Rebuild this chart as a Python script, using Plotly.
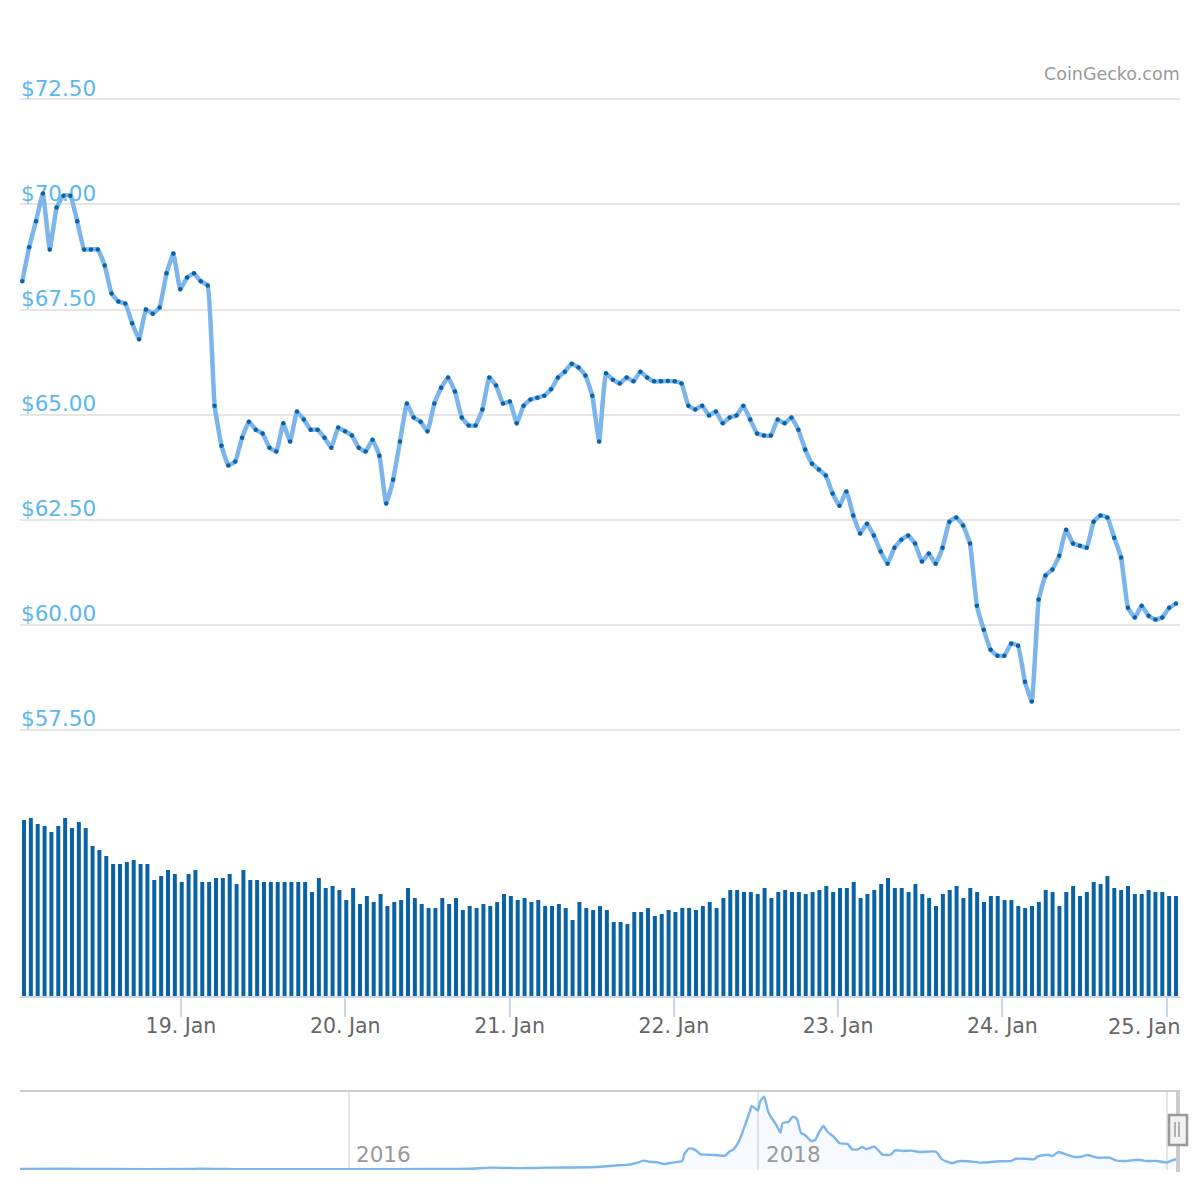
import plotly.graph_objects as go
import pandas as pd

# hourly price
prices = [
    68.17, 68.98, 69.60, 70.26, 68.93, 69.93, 70.21, 70.21, 69.60, 68.93, 68.93, 68.93, 68.55, 67.88,
    67.69, 67.64, 67.17, 66.79, 67.50, 67.40, 67.55, 68.36, 68.83, 67.98, 68.26, 68.36, 68.17, 68.07,
    65.21, 64.26, 63.79, 63.88, 64.45, 64.83, 64.64, 64.55, 64.21, 64.12, 64.79, 64.36, 65.07, 64.88,
    64.64, 64.64, 64.45, 64.21, 64.69, 64.60, 64.50, 64.21, 64.12, 64.40, 64.02, 62.88, 63.45, 64.36,
    65.26, 64.93, 64.83, 64.60, 65.26, 65.64, 65.88, 65.55, 64.93, 64.74, 64.74, 65.12, 65.88, 65.69,
    65.26, 65.31, 64.79, 65.21, 65.36, 65.40, 65.45, 65.60, 65.88, 66.02, 66.21, 66.12, 65.93, 65.45,
    64.36, 65.98, 65.83, 65.74, 65.88, 65.79, 66.02, 65.88, 65.79, 65.79, 65.80, 65.79, 65.74, 65.21,
    65.12, 65.21, 64.98, 65.07, 64.79, 64.93, 64.98, 65.21, 64.88, 64.55, 64.50, 64.50, 64.88, 64.79,
    64.93, 64.64, 64.17, 63.83, 63.69, 63.55, 63.12, 62.83, 63.17, 62.60, 62.17, 62.40, 62.12, 61.74,
    61.45, 61.83, 62.02, 62.12, 61.93, 61.50, 61.69, 61.45, 61.83, 62.45, 62.55, 62.36, 61.93, 60.45,
    59.88, 59.40, 59.26, 59.26, 59.55, 59.50, 58.64, 58.17, 60.60, 61.17, 61.31, 61.64, 62.26, 61.93,
    61.88, 61.83, 62.45, 62.60, 62.55, 62.07, 61.60, 60.40, 60.17, 60.45, 60.21, 60.12, 60.17, 60.40,
    60.50,
]

# volume has no axis in the picture, so these are relative units
volumes = [
    177, 179, 173, 171, 165, 171, 179, 169, 175, 169, 151, 147, 141, 133, 133, 135, 137, 133, 133, 117,
    121, 127, 123, 115, 123, 127, 115, 115, 119, 119, 123, 113, 127, 117, 117, 115, 115, 115, 115, 115,
    115, 115, 105, 119, 109, 111, 107, 97, 109, 93, 101, 95, 103, 91, 95, 97, 109, 99, 93, 89,
    89, 99, 93, 99, 87, 91, 89, 93, 91, 95, 103, 101, 97, 99, 95, 97, 91, 91, 93, 89,
    77, 95, 89, 87, 91, 87, 75, 75, 73, 85, 85, 89, 81, 83, 87, 85, 89, 89, 87, 91,
    95, 89, 99, 107, 107, 105, 105, 103, 109, 99, 105, 107, 105, 105, 103, 105, 107, 111, 105, 109,
    109, 115, 99, 103, 107, 113, 119, 109, 109, 105, 113, 103, 99, 91, 103, 107, 111, 99, 109, 105,
    95, 101, 101, 97, 97, 91, 89, 91, 95, 107, 105, 91, 105, 111, 101, 105, 115, 113, 121, 109,
    107, 111, 103, 103, 107, 105, 105, 101, 101,
]

price_ticks = [57.5, 60, 62.5, 65, 67.5, 70, 72.5]
price_labels = ["$57.50", "$60.00", "$62.50", "$65.00", "$67.50", "$70.00", "$72.50"]
day_ticks = ["2020-01-19", "2020-01-20", "2020-01-21", "2020-01-22", "2020-01-23", "2020-01-24", "2020-01-25"]
day_labels = ["19. Jan", "20. Jan", "21. Jan", "22. Jan", "23. Jan", "24. Jan", ""]

# navigator: whole history as decimal year / price
nav_years = [
    2014.39, 2014.59, 2014.81, 2015.22, 2015.27, 2015.47, 2015.76, 2016.00, 2016.40, 2016.59, 2016.69,
    2016.84, 2016.98, 2017.18, 2017.23, 2017.32, 2017.38, 2017.41, 2017.44, 2017.47, 2017.51, 2017.54,
    2017.58, 2017.63, 2017.64, 2017.66, 2017.68, 2017.70, 2017.72, 2017.76, 2017.79, 2017.84, 2017.86,
    2017.88, 2017.91, 2017.94, 2017.96, 2017.97, 2018.00, 2018.01, 2018.03, 2018.05, 2018.06, 2018.09,
    2018.11, 2018.12, 2018.15, 2018.17, 2018.19, 2018.21, 2018.23, 2018.26, 2018.28, 2018.30, 2018.32,
    2018.34, 2018.37, 2018.40, 2018.44, 2018.46, 2018.49, 2018.51, 2018.53, 2018.57, 2018.61, 2018.65,
    2018.67, 2018.71, 2018.75, 2018.79, 2018.87, 2018.90, 2018.95, 2018.98, 2019.03, 2019.09, 2019.18,
    2019.24, 2019.26, 2019.31, 2019.35, 2019.37, 2019.42, 2019.44, 2019.47, 2019.51, 2019.55, 2019.58,
    2019.61, 2019.66, 2019.72, 2019.75, 2019.80, 2019.86, 2019.90, 2019.95, 2020.00, 2020.03, 2020.05,
]
nav_prices = [
    6, 8, 6, 6, 9, 5, 5, 5, 6, 8, 15,
    12, 15, 18, 21, 30, 36, 47, 60, 53, 49, 38,
    47, 58, 102, 136, 136, 122, 100, 98, 96, 92, 117,
    132, 192, 299, 373, 410, 380, 437, 469, 373, 346, 288,
    239, 299, 309, 341, 328, 239, 224, 186, 192, 245, 282,
    245, 213, 171, 166, 132, 132, 147, 134, 149, 98, 98,
    126, 122, 124, 115, 117, 68, 43, 56, 56, 47, 56,
    58, 72, 72, 68, 88, 98, 90, 115, 98, 83, 85,
    96, 79, 79, 62, 58, 66, 58, 58, 49, 64, 70,
]
nav_ticks = [2016, 2018, 2020]

times = pd.date_range("2020-01-18 00:49", "2020-01-25 01:22", periods=len(prices))
# columns snap to whole pixels in the original, slightly right of the first dots
bar_times = pd.date_range("2020-01-18 01:04", "2020-01-25 01:22", periods=len(volumes))

# page body has an 8px margin, so the 1200px picture starts 8px before the figure
FIG_SIZE = 1184
OFFSET = 8


def px_x(x):
    return (x - OFFSET) / FIG_SIZE


def px_y(y):
    return 1 - (y - OFFSET) / FIG_SIZE


def box(x0, y0, x1, y1, **kw):
    return dict(type="rect", xref="paper", yref="paper", x0=px_x(x0), x1=px_x(x1),
                y0=px_y(y1), y1=px_y(y0), **kw)


def seg(x0, y0, x1, y1, color, width):
    return dict(type="line", xref="paper", yref="paper", x0=px_x(x0), x1=px_x(x1),
                y0=px_y(y0), y1=px_y(y1), line=dict(color=color, width=width))


FONT = "DejaVu Sans"
BLUE = "#7cb5ec"
DARK = "#0a62a6"

fig = go.Figure()
fig.add_bar(x=bar_times, y=volumes, xaxis="x", yaxis="y2", marker=dict(color=DARK, line=dict(width=0)))
fig.add_scatter(x=times, y=prices, xaxis="x", yaxis="y", mode="lines+markers",
                line=dict(color=BLUE, width=4.5, shape="spline", smoothing=0.3),
                marker=dict(color=DARK, size=4.5, line=dict(width=0)))
fig.add_scatter(x=nav_years, y=nav_prices, xaxis="x3", yaxis="y3", mode="lines",
                line=dict(color=BLUE, width=2.4, shape="spline", smoothing=0.5),
                fill="tozeroy", fillcolor="rgba(124,181,236,0.07)")

fig.update_layout(
    width=FIG_SIZE,
    height=FIG_SIZE,
    margin=dict(l=0, r=0, t=0, b=0),
    paper_bgcolor="white",
    plot_bgcolor="rgba(0,0,0,0)",
    showlegend=False,
    bargap=0.42,
    xaxis=dict(
        domain=[px_x(20), px_x(1180)],
        anchor="y2",
        range=["2020-01-18 00:29", "2020-01-25 01:57"],
        tickmode="array",
        tickvals=day_ticks,
        ticktext=day_labels,
        ticks="outside",
        ticklen=19,
        tickwidth=2,
        tickcolor="#ccd6eb",
        ticklabelstandoff=-9,
        showline=True,
        linecolor="#ccd6eb",
        linewidth=2,
        showgrid=False,
        zeroline=False,
        tickfont=dict(family=FONT, size=20.5, color="#666666"),
    ),
    yaxis=dict(
        domain=[px_y(759.5), px_y(59.5)],
        anchor="x",
        range=[56.79, 73.45],
        tickmode="array",
        tickvals=price_ticks,
        ticktext=price_labels,
        ticklabelposition="inside",
        ticklabelshift=-11,
        ticklabelstandoff=-2,
        ticks="",
        layer="below traces",
        showgrid=True,
        gridcolor="#e6e6e6",
        gridwidth=2,
        zeroline=False,
        showline=False,
        tickfont=dict(family=FONT, size=21.5, color="#5bb6ec"),
    ),
    yaxis2=dict(
        domain=[px_y(996), px_y(796)],
        anchor="x",
        range=[1, 201],
        visible=False,
    ),
    xaxis3=dict(
        domain=[px_x(20), px_x(1176)],
        anchor="y3",
        range=[2014.39, 2020.045],
        tickmode="array",
        tickvals=nav_ticks,
        showticklabels=False,
        ticks="",
        showgrid=True,
        gridcolor="#e6e6e6",
        gridwidth=2,
        zeroline=False,
    ),
    yaxis3=dict(
        domain=[px_y(1170), px_y(1092)],
        anchor="x3",
        range=[0, 499],
        visible=False,
    ),
    shapes=[
        seg(20, 1091, 1180, 1091, "#cccccc", 2),
        box(1176, 1090, 1180, 1172, fillcolor="#cccccc", line=dict(width=0)),
        box(1169, 1115, 1187, 1145, fillcolor="#f2f2f2", line=dict(color="#999999", width=2.5)),
        seg(1175, 1122, 1175, 1137, "#999999", 1.5),
        seg(1179, 1122, 1179, 1137, "#999999", 1.5),
    ],
    annotations=[
        dict(text="CoinGecko.com", xref="paper", yref="paper", x=px_x(1182), y=px_y(74),
             xanchor="right", yanchor="middle", showarrow=False,
             font=dict(family=FONT, size=17.5, color="#999999")),
        dict(text="25. Jan", xref="paper", yref="paper", x=px_x(1182), y=px_y(1027),
             xanchor="right", yanchor="middle", showarrow=False,
             font=dict(family=FONT, size=21, color="#666666")),
        dict(text="2016", xref="x3", yref="paper", x=2016, xshift=5, y=px_y(1154),
             xanchor="left", yanchor="middle", showarrow=False,
             font=dict(family=FONT, size=21.5, color="#999999")),
        dict(text="2018", xref="x3", yref="paper", x=2018, xshift=6, y=px_y(1154),
             xanchor="left", yanchor="middle", showarrow=False,
             font=dict(family=FONT, size=21.5, color="#999999")),
    ],
)

fig.write_html("out.html")
